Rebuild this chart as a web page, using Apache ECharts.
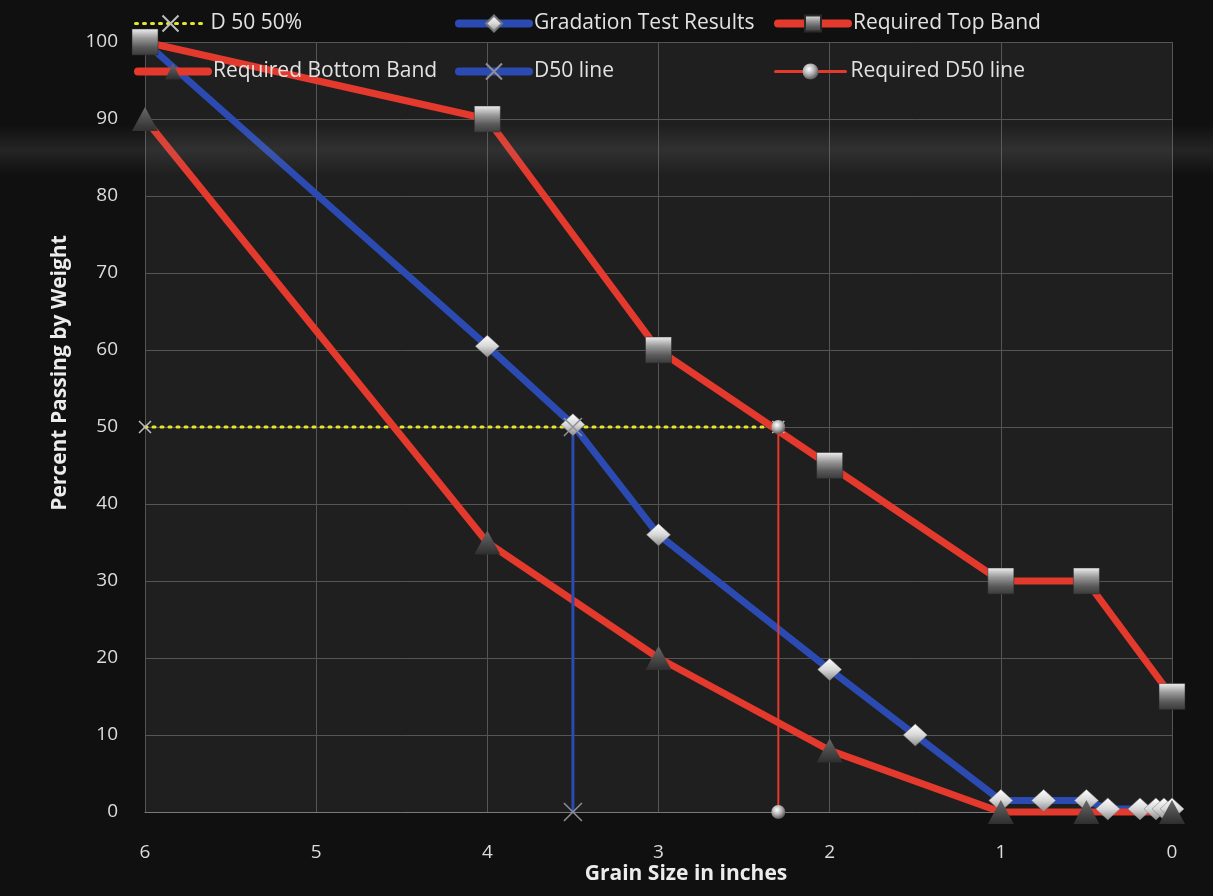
<!DOCTYPE html>
<html>
<head>
<meta charset="utf-8">
<title>Gradation Test Results</title>
<script src="https://cdn.jsdelivr.net/npm/echarts@6/dist/echarts.min.js"></script>
<style>
  html, body { margin: 0; padding: 0; background: #0f0f0f; }
  #chart { width: 1213px; height: 896px; }
</style>
</head>
<body>
<div id="chart"></div>
<script>
// Sieve sizes (inches) and percent passing
const gradationSize = [6, 4, 3.5, 3, 2, 1.5, 1, 0.75, 0.5, 0.375, 0.187, 0.094, 0.047, 0];
const gradationPass = [100, 60.5, 50.3, 36, 18.5, 10, 1.5, 1.5, 1.5, 0.4, 0.4, 0.4, 0.4, 0.4];

const bandSize = [6, 4, 3, 2, 1, 0.5, 0];
const topBandPass = [100, 90, 60, 45, 30, 30, 15];
const bottomBandPass = [90, 35, 20, 8, 0, 0, 0];

const d50Level = [[6, 50], [2.3, 50]];
const d50Line = [[3.5, 50], [3.5, 0]];
const requiredD50Line = [[2.3, 50], [2.3, 0]];

const xTicks = [0, 1, 2, 3, 4, 5, 6];

const pairs = (xs, ys) => xs.map((x, i) => [x, ys[i]]);

const RED = '#e4392d';
const BLUE = '#2c4bb2';
const YELLOW = '#e6e62c';
const FONT = '"Open Sans", "Noto Sans", sans-serif';

const squareFill = new echarts.graphic.LinearGradient(0, 0, 0, 1, [
  { offset: 0, color: '#f0f0f0' }, { offset: 0.35, color: '#9a9a9a' },
  { offset: 0.7, color: '#5a5a5a' }, { offset: 1, color: '#3a3a3a' }
]);
const diamondFill = new echarts.graphic.LinearGradient(0, 0, 0, 1, [
  { offset: 0, color: '#ffffff' }, { offset: 0.5, color: '#d8d8d8' }, { offset: 1, color: '#8a8a8a' }
]);
const triangleFill = new echarts.graphic.LinearGradient(0, 0, 0, 1, [
  { offset: 0, color: '#6a6a6a' }, { offset: 1, color: '#2e2e2e' }
]);
const sphereFill = new echarts.graphic.RadialGradient(0.4, 0.35, 0.7, [
  { offset: 0, color: '#ffffff' }, { offset: 0.5, color: '#b0b0b0' }, { offset: 1, color: '#4a4a4a' }
]);
const crossPath = 'path://M0,0 L10,10 M10,0 L0,10';

const chart = echarts.init(document.getElementById('chart'), null, { renderer: 'canvas' });

const legendBase = {
  orient: 'horizontal',
  itemWidth: 70,
  itemHeight: 20,
  itemGap: 0,
  textStyle: { color: '#e2e2e2', fontSize: 21, fontFamily: FONT },
  selectedMode: false
};
const legendAt = (left, top, name, lineStyle) =>
  Object.assign({}, legendBase, { left, top, data: [name], lineStyle });

chart.setOption({
  backgroundColor: '#101010',
  animation: false,
  grid: {
    left: 145, right: 41, top: 42, bottom: 84,
    show: true, backgroundColor: '#1f1f1f', borderWidth: 0
  },
  legend: [
    legendAt(129, 8, 'D 50 50%', { color: YELLOW, width: 3, type: [2, 6], cap: 'round' }),
    legendAt(450, 8, 'Gradation Test Results', { color: BLUE, width: 8, cap: 'round' }),
    legendAt(769, 8, 'Required Top Band', { color: RED, width: 8, cap: 'round' }),
    legendAt(129, 56, 'Required Bottom Band', { color: RED, width: 8, cap: 'round' }),
    legendAt(450, 56, 'D50 line', { color: BLUE, width: 8, cap: 'round' }),
    legendAt(769, 56, 'Required D50 line', { color: RED, width: 3, cap: 'round' })
  ],
  xAxis: {
    type: 'value',
    min: 0, max: 6, interval: 1,
    inverse: true,
    axisLine: { show: true, onZero: false, lineStyle: { color: '#7a7a7a', width: 1 } },
    axisTick: { show: false },
    axisLabel: {
      color: '#dcdcdc', fontSize: 19, fontFamily: FONT, margin: 31,
      formatter: v => (xTicks.includes(v) ? String(v) : '')
    },
    splitLine: { show: true, lineStyle: { color: '#555555', width: 1 } }
  },
  yAxis: {
    type: 'value',
    min: 0, max: 100, interval: 10,
    axisLine: { show: false },
    axisTick: { show: false },
    axisLabel: { color: '#dcdcdc', fontSize: 19, fontFamily: FONT, margin: 27 },
    splitLine: { show: true, lineStyle: { color: '#555555', width: 1 } }
  },
  graphic: [
    {
      type: 'rect', silent: true, z: 100,
      shape: { x: 0, y: 125, width: 1213, height: 50 },
      style: {
        fill: new echarts.graphic.LinearGradient(0, 0, 0, 1, [
          { offset: 0, color: 'rgba(140,140,140,0)' },
          { offset: 0.5, color: 'rgba(140,140,140,0.16)' },
          { offset: 1, color: 'rgba(140,140,140,0)' }
        ])
      }
    },
    {
      type: 'text', x: 60, y: 373, rotation: Math.PI / 2,
      style: {
        text: 'Percent Passing by Weight', fill: '#ececec',
        font: 'bold 21px ' + FONT, align: 'center', verticalAlign: 'middle'
      }
    },
    {
      type: 'text', x: 686, y: 874,
      style: {
        text: 'Grain Size in inches', fill: '#ececec',
        font: 'bold 21px ' + FONT, align: 'center', verticalAlign: 'middle'
      }
    }
  ],
  series: [
    {
      name: 'D 50 50%', type: 'line', clip: false,
      data: d50Level,
      lineStyle: { color: YELLOW, width: 3, type: [2, 6], cap: 'round' },
      symbol: crossPath, symbolSize: 12,
      itemStyle: { color: 'rgba(0,0,0,0)', borderColor: '#bdbdbd', borderWidth: 1.5 }
    },
    {
      name: 'Gradation Test Results', type: 'line', clip: false,
      data: pairs(gradationSize, gradationPass),
      lineStyle: { color: BLUE, width: 7 },
      symbol: 'diamond', symbolSize: [24, 22],
      itemStyle: { color: diamondFill, borderColor: '#777', borderWidth: 0.5 }
    },
    {
      name: 'Required Top Band', type: 'line', clip: false,
      data: pairs(bandSize, topBandPass),
      lineStyle: { color: RED, width: 7 },
      symbol: 'rect', symbolSize: 26,
      itemStyle: { color: squareFill, borderColor: '#2a2a2a', borderWidth: 0.5 }
    },
    {
      name: 'Required Bottom Band', type: 'line', clip: false,
      data: pairs(bandSize, bottomBandPass),
      lineStyle: { color: RED, width: 7 },
      symbol: 'triangle', symbolSize: [26, 24],
      itemStyle: { color: triangleFill }
    },
    {
      name: 'D50 line', type: 'line', clip: false,
      data: d50Line,
      lineStyle: { color: BLUE, width: 3 },
      symbol: crossPath, symbolSize: 18,
      itemStyle: { color: 'rgba(0,0,0,0)', borderColor: '#8f8f9a', borderWidth: 1.5 }
    },
    {
      name: 'Required D50 line', type: 'line', clip: false,
      data: requiredD50Line,
      lineStyle: { color: RED, width: 2 },
      symbol: 'circle', symbolSize: 14,
      itemStyle: { color: sphereFill }
    }
  ]
});
</script>
</body>
</html>
